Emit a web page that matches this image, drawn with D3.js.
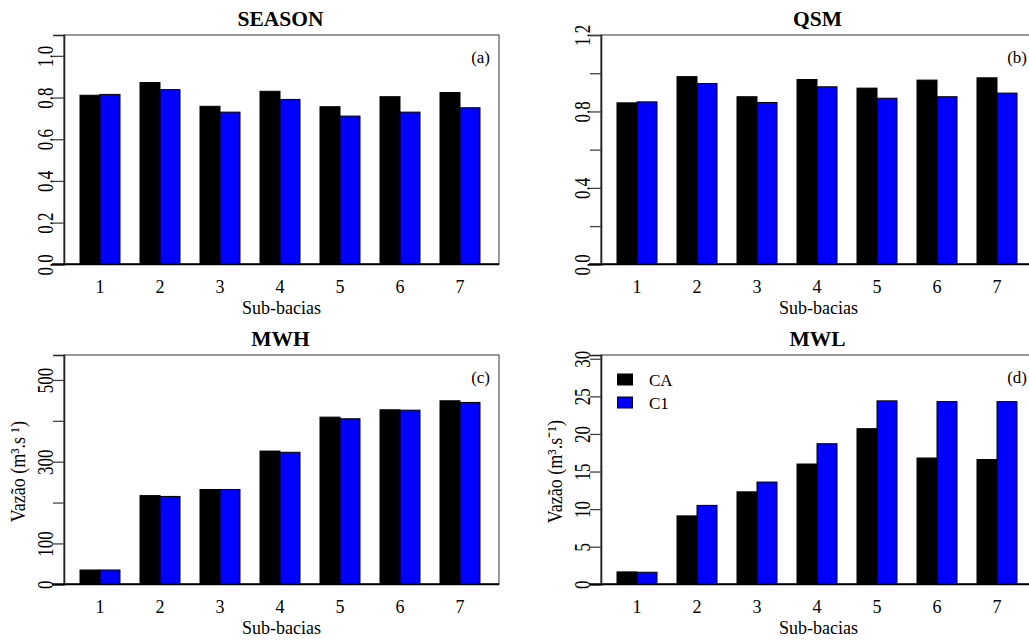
<!DOCTYPE html>
<html>
<head>
<meta charset="utf-8">
<script src="https://cdn.jsdelivr.net/npm/d3@7"></script>
<style>
  body { margin: 0; background: #fff; }
  svg text { font-family: 'Liberation Serif', 'Times New Roman', Tinos, serif; }
</style>
</head>
<body>
<svg id="chart" width="1029" height="641"></svg>
<script>
// sub-basins on the x axis
const subbacias = ['1', '2', '3', '4', '5', '6', '7'];
const series = ['CA', 'C1'];
const seriesColors = ['#000000', '#0000ff'];

// values
const seasonCA = [0.811, 0.872, 0.758, 0.830, 0.756, 0.804, 0.824];
const seasonC1 = [0.815, 0.838, 0.730, 0.791, 0.711, 0.730, 0.751];
const qsmCA = [0.845, 0.982, 0.877, 0.967, 0.922, 0.964, 0.976];
const qsmC1 = [0.850, 0.946, 0.847, 0.929, 0.869, 0.877, 0.896];
const mwhCA = [35, 217, 232, 326, 409, 427, 449];
const mwhC1 = [35, 215, 232, 323, 405, 426, 445];
const mwlCA = [1.65, 9.1, 12.3, 16.0, 20.7, 16.8, 16.6];
const mwlC1 = [1.6, 10.5, 13.6, 18.7, 24.4, 24.3, 24.3];

// y ticks and which of them get a label
const seasonTicks = [0, 0.2, 0.4, 0.6, 0.8, 1.0];
const seasonLabels = [0, 0.2, 0.4, 0.6, 0.8, 1.0];
const qsmTicks = [0, 0.2, 0.4, 0.6, 0.8, 1.0, 1.2];
const qsmLabels = [0, 0.4, 0.8, 1.2];
const mwhTicks = [0, 100, 200, 300, 400, 500];
const mwhLabels = [0, 100, 300, 500];
const mwlTicks = [0, 5, 10, 15, 20, 25, 30];
const mwlLabels = [0, 5, 10, 15, 20, 25, 30];

const svg = d3.select('#chart');
const W = 435;
const H = 229.3;
const serif = "'Liberation Serif', 'Times New Roman', Tinos, serif";

const panels = [
  {title: 'SEASON', tag: '(a)', ca: seasonCA, c1: seasonC1, max: 1.1, ticks: seasonTicks, labels: seasonLabels, fmt: d3.format('.1f'), x0: 64, y0: 35, ylab: null, legend: false},
  {title: 'QSM', tag: '(b)', ca: qsmCA, c1: qsmC1, max: 1.2, ticks: qsmTicks, labels: qsmLabels, fmt: d3.format('.1f'), x0: 601, y0: 35, ylab: null, legend: false},
  {title: 'MWH', tag: '(c)', ca: mwhCA, c1: mwhC1, max: 561, ticks: mwhTicks, labels: mwhLabels, fmt: d3.format('d'), x0: 64, y0: 355, ylab: 'Vazão (m³.s ¹)', legend: false},
  {title: 'MWL', tag: '(d)', ca: mwlCA, c1: mwlC1, max: 30.5, ticks: mwlTicks, labels: mwlLabels, fmt: d3.format('d'), x0: 601, y0: 355, ylab: 'Vazão (m³.s⁻¹)', legend: true}
];

function drawPanel(p){
  const g = svg.append('g')
    .attr('transform', `translate(${p.x0}, ${p.y0})`);

  const x = d3.scaleBand()
    .domain(subbacias)
    .range([-4, W + 1])
    .paddingInner(1/3)
    .paddingOuter(1/3);

  const xs = d3.scaleBand()
    .domain(series)
    .range([0, x.bandwidth()]);

  const y = d3.scaleLinear()
    .domain([0, p.max])
    .range([H, 0]);

  // box
  g.append('rect')
    .attr('x', 0)
    .attr('y', 0)
    .attr('width', W)
    .attr('height', H)
    .style('fill', 'none')
    .style('stroke', '#555')
    .style('stroke-width', 1.2);

  const rows = subbacias.map((s, i) => ({sub: s, vals: [p.ca[i], p.c1[i]]}));

  g.append('g')
    .selectAll('g.grp')
    .data(rows)
    .enter()
    .append('g')
    .attr('class', 'grp')
    .attr('transform', d => `translate(${x(d.sub)}, 0)`)
    .selectAll('rect')
    .data(d => d.vals.map((v, j) => ({key: series[j], v: v, col: seriesColors[j]})))
    .enter()
    .append('rect')
    .attr('x', d => xs(d.key))
    .attr('y', d => y(d.v))
    .attr('width', xs.bandwidth())
    .attr('height', d => H - y(d.v))
    .style('fill', d => d.col)
    .style('stroke', '#000')
    .style('stroke-width', 1);

  // y axis
  const yAxis = g.append('g')
    .call(d3.axisLeft(y)
      .tickValues(p.ticks)
      .tickSize(11)
      .tickFormat(d => p.labels.includes(d) ? p.fmt(d) : ''));

  yAxis.attr('font-family', null);
  yAxis.select('.domain')
    .style('stroke', '#222')
    .style('stroke-width', 1.6);
  yAxis.selectAll('.tick line')
    .style('stroke', '#444')
    .style('stroke-width', 1.3);
  yAxis.selectAll('.tick text')
    .attr('x', null)
    .attr('dy', null)
    .attr('text-anchor', 'middle')
    .attr('transform', 'translate(-11, 0) rotate(-90) scale(1, 1.3)')
    .style('font-family', serif)
    .style('font-size', '17px')
    .style('fill', '#000');

  // bottom axis line
  g.append('line')
    .attr('x1', -12)
    .attr('x2', W)
    .attr('y1', H)
    .attr('y2', H)
    .style('stroke', '#000')
    .style('stroke-width', 2);

  // x labels
  g.append('g')
    .selectAll('text')
    .data(subbacias)
    .enter()
    .append('text')
    .attr('x', d => x(d) + x.bandwidth() / 2)
    .attr('y', H + 29)
    .attr('text-anchor', 'middle')
    .style('font-family', serif)
    .style('font-size', '18px')
    .text(d => d);

  g.append('text')
    .attr('x', W / 2)
    .attr('y', H + 50)
    .attr('text-anchor', 'middle')
    .style('font-family', serif)
    .style('font-size', '18px')
    .text('Sub-bacias');

  // title
  g.append('text')
    .attr('x', W / 2 - 1)
    .attr('y', -9)
    .attr('text-anchor', 'middle')
    .style('font-family', serif)
    .style('font-size', '21.5px')
    .style('font-weight', 'bold')
    .text(p.title);

  // panel tag
  g.append('text')
    .attr('x', W - 9)
    .attr('y', 28)
    .attr('text-anchor', 'end')
    .style('font-family', serif)
    .style('font-size', '17px')
    .text(p.tag);

  if (p.ylab){
    g.append('text')
      .attr('transform', `translate(-39, ${H / 2 + 2}) rotate(-90) scale(1, 1.2)`)
      .attr('text-anchor', 'middle')
      .style('font-family', serif)
      .style('font-size', '18px')
      .text(p.ylab);
  }

  if (p.legend){
    const lg = g.append('g')
      .attr('transform', 'translate(16, 19)');
    const items = lg.selectAll('g.item')
      .data(series)
      .enter()
      .append('g')
      .attr('class', 'item')
      .attr('transform', (d, i) => `translate(0, ${i * 23})`);
    items.append('rect')
      .attr('x', 0.5)
      .attr('y', 0)
      .attr('width', 15)
      .attr('height', 11)
      .style('fill', (d, i) => seriesColors[i])
      .style('stroke', '#000')
      .style('stroke-width', 1);
    items.append('text')
      .attr('x', 32)
      .attr('y', 11.5)
      .style('font-family', serif)
      .style('font-size', '17px')
      .text(d => d);
  }
}

panels.forEach(drawPanel);
</script>
</body>
</html>
